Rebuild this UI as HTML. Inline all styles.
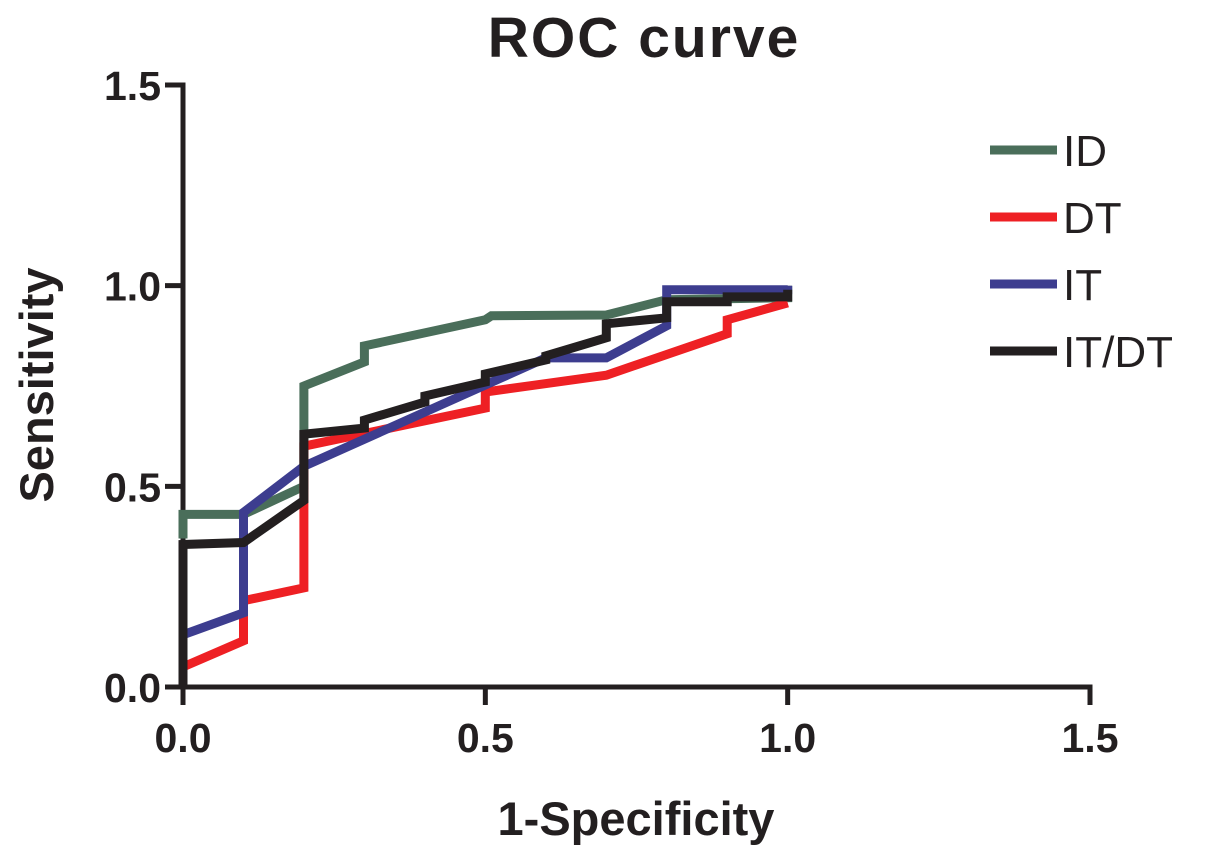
<!DOCTYPE html>
<html><head><meta charset="utf-8"><style>
html,body{margin:0;padding:0;background:#fff;}
svg text{font-family:"Liberation Sans",Arial,sans-serif;}
</style></head><body>
<svg id="chart" width="1205" height="855" viewBox="0 0 1205 855" xmlns="http://www.w3.org/2000/svg">
<text x="644" y="57" text-anchor="middle" font-size="57" font-weight="bold" letter-spacing="2" fill="#231f20">ROC curve</text>
<text x="636" y="835" text-anchor="middle" font-size="47" font-weight="bold" fill="#231f20">1-Specificity</text>
<text transform="translate(53,385) rotate(-90)" text-anchor="middle" font-size="47" font-weight="bold" fill="#231f20">Sensitivity</text>
<g id="axes"></g>
<g id="series"></g>
<g id="legend"></g>
</svg>
<script>
const xTicks = [0.0, 0.5, 1.0, 1.5];
const yTicks = [0.0, 0.5, 1.0, 1.5];
const seriesNames = ["ID", "DT", "IT", "IT/DT"];
const seriesColors = ["#4a6e5a", "#ee2024", "#3d3d8f", "#231f20"];
const idX = [0, 0, 0.1, 0.2, 0.2, 0.3, 0.3, 0.5, 0.51, 0.7, 0.8, 1.0, 1.0];
const idY = [0.37, 0.43, 0.43, 0.50, 0.75, 0.81, 0.85, 0.915, 0.925, 0.927, 0.965, 0.97, 1.0];
const dtX = [0, 0, 0.1, 0.1, 0.2, 0.2, 0.5, 0.5, 0.7, 0.9, 0.9, 1.0];
const dtY = [0.04, 0.05, 0.115, 0.215, 0.247, 0.60, 0.695, 0.735, 0.777, 0.88, 0.915, 0.957];
const itX = [0, 0, 0.1, 0.1, 0.2, 0.6, 0.7, 0.8, 0.8, 1.0, 1.0];
const itY = [0.12, 0.13, 0.185, 0.435, 0.55, 0.82, 0.82, 0.90, 0.99, 0.99, 1.0];
const itdtX = [0, 0, 0.1, 0.2, 0.2, 0.3, 0.3, 0.4, 0.4, 0.5, 0.5, 0.6, 0.6, 0.7, 0.7, 0.8, 0.8, 0.9, 0.9, 1.0, 1.0];
const itdtY = [0, 0.355, 0.36, 0.465, 0.63, 0.645, 0.665, 0.71, 0.725, 0.76, 0.78, 0.815, 0.825, 0.87, 0.905, 0.92, 0.96, 0.96, 0.972, 0.972, 0.99];

const X0 = 183, X1 = 1090, Y0 = 687, Y1 = 85;
const sx = v => X0 + (v - 0) / 1.5 * (X1 - X0);
const sy = v => Y0 - (v - 0) / 1.5 * (Y0 - Y1);
const NS = "http://www.w3.org/2000/svg";
function mk(tag, attrs, parent) {
  const e = document.createElementNS(NS, tag);
  for (const k in attrs) e.setAttribute(k, attrs[k]);
  parent.appendChild(e);
  return e;
}
const axes = document.getElementById("axes");
const axisStroke = "#231f20";
const xAxis = mk("path", {d: `M${X0},${Y0} H${X1} V${Y0+18}`, fill: "none", stroke: axisStroke, "stroke-width": 5}, axes);


const yAxis = mk("path", {d: `M${X0},${Y0} V${Y1} H${X0-18}`, fill: "none", stroke: axisStroke, "stroke-width": 5}, axes);


xTicks.forEach(t => {
  const tk = mk("line", {x1: sx(t), x2: sx(t), y1: Y0, y2: Y0 + 18, stroke: axisStroke, "stroke-width": 5}, axes);
  
  
  const lb = mk("text", {x: sx(t), y: Y0 + 65, "text-anchor": "middle", "font-size": 41, "font-weight": "bold", fill: axisStroke}, axes);
  lb.textContent = t.toFixed(1);
  
  
});
yTicks.forEach(t => {
  const tk = mk("line", {x1: X0 - 18, x2: X0, y1: sy(t), y2: sy(t), stroke: axisStroke, "stroke-width": 5}, axes);
  
  
  const lb = mk("text", {x: X0 - 22, y: sy(t) + 15, "text-anchor": "end", "font-size": 41, "font-weight": "bold", fill: axisStroke}, axes);
  lb.textContent = t.toFixed(1);
  
  
});
const allX = [idX, dtX, itX, itdtX];
const allY = [idY, dtY, itY, itdtY];
const sg = document.getElementById("series");
const lg = document.getElementById("legend");
seriesNames.forEach((n, i) => {
  const xs = allX[i], ys = allY[i];
  const d = xs.map((x, j) => (j ? "L" : "M") + sx(x).toFixed(1) + "," + sy(ys[j]).toFixed(1)).join(" ");
  const p = mk("path", {d: d, fill: "none", stroke: seriesColors[i], "stroke-width": 9, "stroke-linejoin": "miter"}, sg);
  
  
  const ly = 150 + i * 67;
  const ll = mk("line", {x1: 990, x2: 1057, y1: ly, y2: ly, stroke: seriesColors[i], "stroke-width": 9}, lg);
  
  
  const lt = mk("text", {x: 1063, y: ly + 16, "font-size": 44, fill: axisStroke}, lg);
  lt.textContent = n;
  
  
});
</script>
</body></html>
